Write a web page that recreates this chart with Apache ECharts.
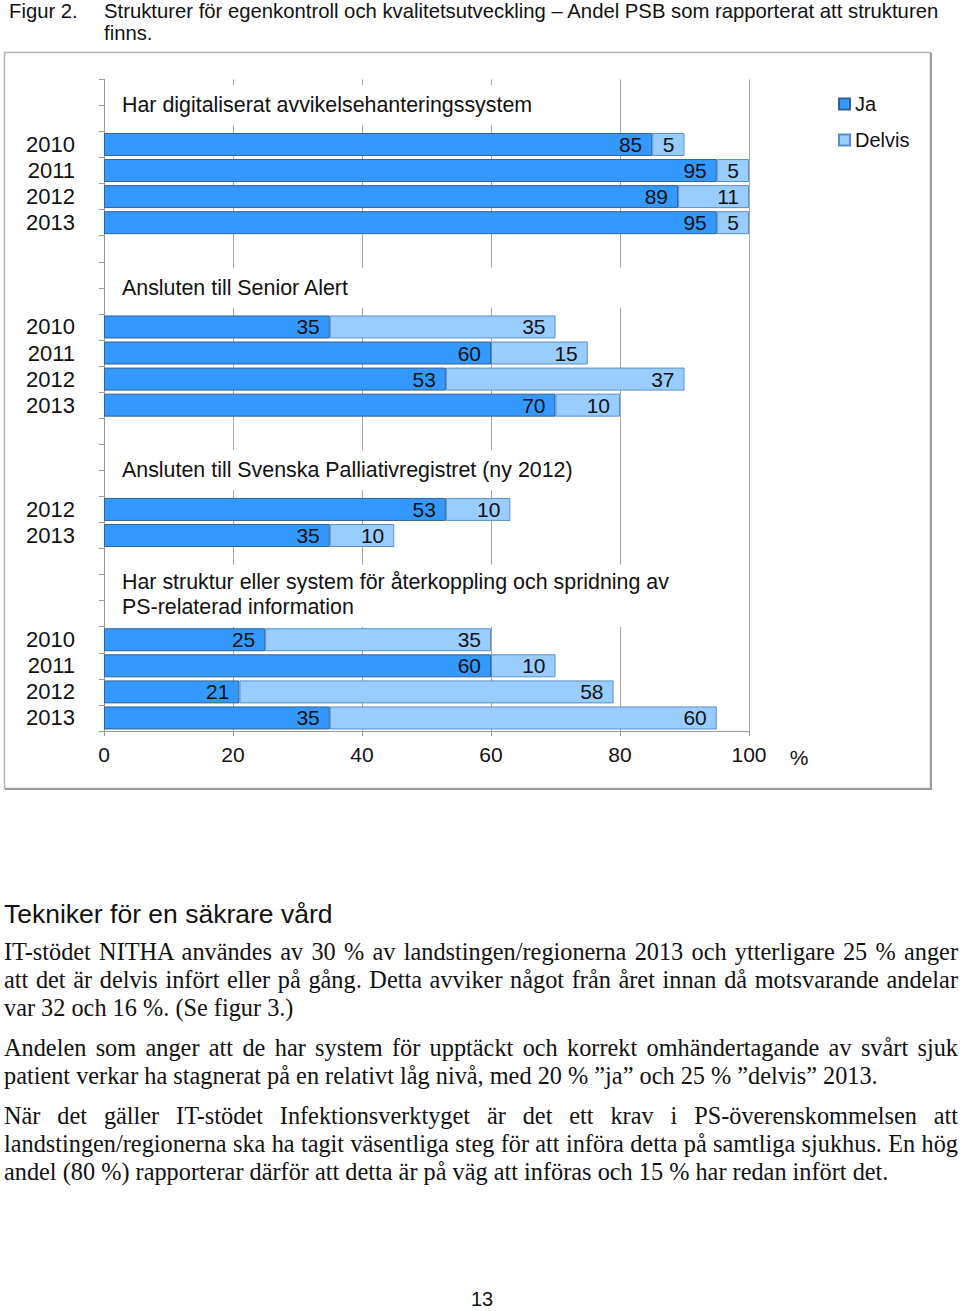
<!DOCTYPE html>
<html>
<head>
<meta charset="utf-8">
<script src="https://cdn.jsdelivr.net/npm/echarts@6/dist/echarts.min.js"></script>
<style>
  html, body { margin: 0; padding: 0; background: #fff; }
  body { position: relative; width: 960px; height: 1311px; overflow: hidden; }
  #chart { position: absolute; left: 0; top: 0; width: 960px; height: 800px; }
  .sans { font-family: "Liberation Sans", Arial, sans-serif; color: #111; }
  .serif { font-family: "Liberation Serif", "Times New Roman", serif; color: #111; }
  #fig { position: absolute; left: 9px; top: 0px; font-size: 20.3px; line-height: 22px; }
  #figtext { position: absolute; left: 104px; top: 0px; font-size: 20.3px; line-height: 22px; white-space: nowrap; }
  #heading { position: absolute; left: 4px; top: 897px; font-size: 26.5px; line-height: 34px; white-space: nowrap; }
  .para { position: absolute; left: 4px; width: 954px; font-size: 24.3px; }
  .para div { height: 28px; line-height: 28px; white-space: nowrap; }
  .para div.j { text-align: justify; text-align-last: justify; white-space: normal; }
  #pagenum { position: absolute; left: 0; width: 964px; text-align: center; top: 1286px; font-size: 20px; line-height: 26px; }
</style>
</head>
<body>
<div id="chart"></div>
<div id="fig" class="sans">Figur 2.</div>
<div id="figtext" class="sans">Strukturer för egenkontroll och kvalitetsutveckling – Andel PSB som rapporterat att strukturen<br>finns.</div>
<div id="heading" class="sans">Tekniker för en säkrare vård</div>
<div class="para serif" style="top:938px">
  <div class="j">IT-stödet NITHA användes av 30 % av landstingen/regionerna 2013 och ytterligare 25 % anger</div>
  <div class="j">att det är delvis infört eller på gång. Detta avviker något från året innan då motsvarande andelar</div>
  <div>var 32 och 16 %. (Se figur 3.)</div>
</div>
<div class="para serif" style="top:1034px">
  <div class="j">Andelen som anger att de har system för upptäckt och korrekt omhändertagande av svårt sjuk</div>
  <div>patient verkar ha stagnerat på en relativt låg nivå, med 20 % ”ja” och 25 % ”delvis” 2013.</div>
</div>
<div class="para serif" style="top:1102px">
  <div class="j">När det gäller IT-stödet Infektionsverktyget är det ett krav i PS-överenskommelsen att</div>
  <div class="j">landstingen/regionerna ska ha tagit väsentliga steg för att införa detta på samtliga sjukhus. En hög</div>
  <div>andel (80 %) rapporterar därför att detta är på väg att införas och 15 % har redan infört det.</div>
</div>
<div id="pagenum" class="sans">13</div>
<script>
// ---- data ----
const groupTitles = [
  'Har digitaliserat avvikelsehanteringssystem',
  'Ansluten till Senior Alert',
  'Ansluten till Svenska Palliativregistret (ny 2012)',
  'Har struktur eller system för återkoppling och spridning av\nPS-relaterad information'
];
const groupYears = [
  ['2010', '2011', '2012', '2013'],
  ['2010', '2011', '2012', '2013'],
  ['2012', '2013'],
  ['2010', '2011', '2012', '2013']
];
const jaValues = [
  [85, 95, 89, 95],
  [35, 60, 53, 70],
  [53, 35],
  [25, 60, 21, 35]
];
const delvisValues = [
  [5, 5, 11, 5],
  [35, 15, 37, 10],
  [10, 10],
  [35, 10, 58, 60]
];
const seriesNames = ['Ja', 'Delvis'];
const xTicks = [0, 20, 40, 60, 80, 100];
const unitLabel = '%';

// ---- build rows (blank rows carry the group titles) ----
const rowLabels = [], jaData = [], delvisData = [], groupStart = [];
function blank(n) { for (let i = 0; i < n; i++) { rowLabels.push(''); jaData.push(null); delvisData.push(null); } }
blank(2);
groupYears.forEach((yrs, g) => {
  if (g > 0) blank(3);
  groupStart.push(rowLabels.length);
  yrs.forEach((y, i) => { rowLabels.push(y); jaData.push(jaValues[g][i]); delvisData.push(delvisValues[g][i]); });
});
const axisKeys = rowLabels.map((l, i) => i + '|' + l);

const FONT = '"Liberation Sans", Arial, sans-serif';
const chart = echarts.init(document.getElementById('chart'), null, { renderer: 'svg' });

const labelStyle = {
  show: true, position: 'insideRight', distance: 10,
  fontSize: 21, fontFamily: FONT, color: '#111',
  formatter: p => p.value
};

const option = {
  animation: false,
  textStyle: { fontFamily: FONT },
  grid: { left: 104, right: 211, top: 79.3, bottom: 69, containLabel: false },
  legend: {
    orient: 'vertical', left: 838, top: 94, padding: 0,
    itemWidth: 11, itemHeight: 11, itemGap: 16, icon: 'rect',
    textStyle: { fontSize: 20, fontFamily: FONT, color: '#111' },
    data: seriesNames
  },
  xAxis: {
    type: 'value', min: xTicks[0], max: xTicks[xTicks.length - 1], interval: xTicks[1] - xTicks[0],
    axisLine: { show: true, lineStyle: { color: '#999', width: 1 } },
    axisTick: { show: true, length: 5, lineStyle: { color: '#999' } },
    splitLine: { show: true, lineStyle: { color: '#a8a8a8', width: 1 } },
    axisLabel: { fontSize: 21, fontFamily: FONT, color: '#111', margin: 13 }
  },
  yAxis: {
    type: 'category', inverse: true, data: axisKeys,
    axisLine: { show: true, lineStyle: { color: '#999', width: 1 } },
    axisTick: { show: true, length: 5, interval: 0, lineStyle: { color: '#999' } },
    splitLine: { show: false },
    axisLabel: { interval: 0, fontSize: 22, fontFamily: FONT, color: '#111', margin: 29,
                 formatter: v => v.split('|')[1] }
  },
  series: [
    {
      name: seriesNames[0], type: 'bar', stack: 'total', data: jaData, barWidth: 23,
      itemStyle: { color: '#3399ff', borderColor: '#35618f', borderWidth: 1 },
      label: labelStyle
    },
    {
      name: seriesNames[1], type: 'bar', stack: 'total', data: delvisData, barWidth: 23,
      itemStyle: { color: '#99ccff', borderColor: '#5a8fc8', borderWidth: 1 },
      label: labelStyle
    }
  ]
};
chart.setOption(option);

// ---- titles, frame and unit placed relative to the axes ----
const rowCenter = i => chart.convertToPixel({ yAxisIndex: 0 }, i);
const pitch = rowCenter(1) - rowCenter(0);
const xPix = v => chart.convertToPixel({ xAxisIndex: 0 }, v);
const titleRight = [560, 700, 600, 720];
const graphics = [];
groupTitles.forEach((t, g) => {
  const boundary = rowCenter(groupStart[g] - 1) - pitch / 2;
  const lines = t.split('\n').length;
  const cy = lines > 1 ? boundary - 6 : boundary;
  const h = lines > 1 ? 62 : 40;
  const top = lines > 1 ? rowCenter(groupStart[g]) - pitch / 2 - h : cy - 20;
  graphics.push({ type: 'rect', z: 5, silent: true,
    shape: { x: xPix(0) + 1, y: top, width: titleRight[g] - xPix(0) - 1, height: h },
    style: { fill: '#fff' } });
  graphics.push({ type: 'text', z: 6, silent: true, x: 122, y: cy,
    style: { text: t, font: '21.4px ' + FONT, fill: '#111', verticalAlign: 'middle', align: 'left', lineHeight: 25 } });
});
graphics.push({ type: 'text', z: 6, silent: true, x: xPix(100) + 50, y: rowCenter(rowLabels.length - 1) + pitch / 2 + 26,
  style: { text: unitLabel, font: '21px ' + FONT, fill: '#111', align: 'center', verticalAlign: 'middle' } });
graphics.push({ type: 'rect', z: 0, silent: true,
  shape: { x: 4.5, y: 52.5, width: 926, height: 736 },
  style: { fill: 'none', stroke: '#b4b4b4', lineWidth: 1.5 } });
graphics.push({ type: 'polyline', z: 0, silent: true,
  shape: { points: [[931, 53], [931, 789], [5, 789]] },
  style: { fill: 'none', stroke: '#9a9a9a', lineWidth: 2 } });
chart.setOption({ graphic: graphics });
</script>
</body>
</html>
